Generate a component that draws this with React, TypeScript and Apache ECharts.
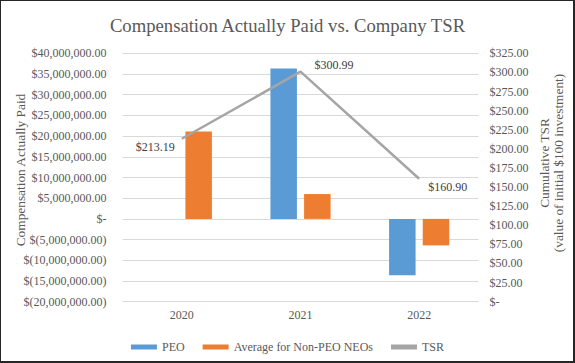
import React, { useEffect, useRef } from "react";
import * as echarts from "echarts";

const categories = ["2020", "2021", "2022"];
const peoValues: (number | null)[] = [null, 36300000, -13600000];
const neoValues = [21100000, 6000000, -6400000];
const tsrValues = [213.19, 300.99, 160.9];
const titleText = "Compensation Actually Paid vs. Company TSR";
const leftAxisName = "Compensation Actually Paid";
const rightAxisName = "Cumulative TSR\n(value of initial $100 investment)";
const seriesNames = ["PEO", "Average for Non-PEO NEOs", "TSR"];

const FONT = "'Liberation Serif', 'Times New Roman', serif";
const TEXT = "#595959";

function fmtMoney(v: number, decimals: number): string {
  if (v === 0) return "$-";
  const abs = Math.abs(v).toLocaleString("en-US", {
    minimumFractionDigits: decimals,
    maximumFractionDigits: decimals,
  });
  return v < 0 ? "$(" + abs + ")" : "$" + abs;
}

export default function App() {
  const ref = useRef<HTMLDivElement>(null);
  useEffect(() => {
    if (!ref.current) return;
    const chart = echarts.init(ref.current, undefined, { renderer: "svg" });
    const labelCfg = [
      { position: "left", distance: 7, offset: [0, 8] },
      { position: "right", distance: 14, offset: [0, -7] },
      { position: "right", distance: 9, offset: [0, 8] },
    ];
    chart.setOption({
      animation: false,
      backgroundColor: "#ffffff",
      textStyle: { fontFamily: FONT },
      title: {
        text: titleText,
        left: "center",
        top: 11,
        textStyle: {
          fontFamily: FONT,
          fontSize: 18.67,
          fontWeight: "normal",
          color: TEXT,
        },
      },
      grid: { left: 122.5, right: 96.5, top: 53.3, bottom: 61.3, containLabel: false },
      legend: {
        left: "center",
        top: 336,
        itemWidth: 26,
        itemHeight: 5,
        itemGap: 18,
        textStyle: { fontFamily: FONT, fontSize: 12, color: TEXT },
        data: seriesNames.map((n) => ({ name: n, icon: "rect" })),
      },
      xAxis: {
        type: "category",
        data: categories,
        axisLine: { show: false, onZero: false },
        axisTick: { show: false },
        axisLabel: { fontFamily: FONT, fontSize: 12, color: TEXT, margin: 7 },
      },
      yAxis: [
        {
          type: "value",
          min: -20000000,
          max: 40000000,
          interval: 5000000,
          axisLine: { show: false },
          axisTick: { show: false },
          splitLine: { lineStyle: { color: "#d9d9d9", width: 1 } },
          axisLabel: {
            fontFamily: FONT,
            fontSize: 12,
            color: TEXT,
            margin: 16,
            formatter: (v: number) => fmtMoney(v, 2),
          },
        },
        {
          type: "value",
          min: 0,
          max: 325,
          interval: 25,
          position: "right",
          axisLine: { show: false },
          axisTick: { show: false },
          splitLine: { show: false },
          axisLabel: {
            fontFamily: FONT,
            fontSize: 12,
            color: TEXT,
            margin: 11,
            formatter: (v: number) => fmtMoney(v, 2),
          },
        },
      ],
      graphic: [
        {
          type: "text",
          x: 20.7,
          y: 170,
          rotation: Math.PI / 2,
          style: {
            text: leftAxisName,
            fontFamily: FONT,
            fontSize: 13.33,
            fill: TEXT,
            align: "center",
            verticalAlign: "middle",
          },
        },
        {
          type: "text",
          x: 551.5,
          y: 163,
          rotation: Math.PI / 2,
          style: {
            text: rightAxisName,
            fontFamily: FONT,
            fontSize: 13.33,
            lineHeight: 13.5,
            fill: TEXT,
            align: "center",
            verticalAlign: "middle",
          },
        },
      ],
      series: [
        {
          name: seriesNames[0],
          type: "bar",
          data: peoValues,
          barWidth: 26.5,
          barGap: "27%",
          itemStyle: { color: "#5b9bd5" },
        },
        {
          name: seriesNames[1],
          type: "bar",
          data: neoValues,
          barWidth: 26.5,
          barGap: "27%",
          itemStyle: { color: "#ed7d31" },
        },
        {
          name: seriesNames[2],
          type: "line",
          yAxisIndex: 1,
          symbol: "circle",
          symbolSize: 0.01,
          showSymbol: true,
          lineStyle: { color: "#a5a5a5", width: 2.5 },
          itemStyle: { color: "#a5a5a5" },
          data: tsrValues.map((v, i) => ({
            value: v,
            label: {
              show: true,
              position: labelCfg[i].position,
              distance: labelCfg[i].distance,
              offset: labelCfg[i].offset,
              formatter: (p: any) => fmtMoney(p.value, 2),
              fontFamily: FONT,
              fontSize: 12,
              color: "#404040",
            },
          })),
        },
      ],
    });
    return () => chart.dispose();
  }, []);
  return (
    <div style={{ position: "fixed", left: 0, top: 0, width: 575, height: 363 }}>
      <div ref={ref} style={{ position: "absolute", left: 0, top: 0, width: 575, height: 363 }} />
      <div
        style={{
          position: "absolute",
          left: 0,
          top: 0,
          width: 575,
          height: 363,
          boxSizing: "border-box",
          borderTop: "1px solid #262626",
          borderLeft: "1px solid #262626",
          borderRight: "2px solid #262626",
          borderBottom: "2px solid #262626",
          pointerEvents: "none",
        }}
      />
    </div>
  );
}
